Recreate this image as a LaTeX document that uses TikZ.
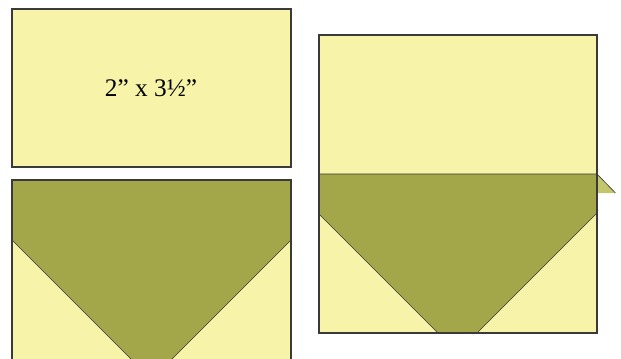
\documentclass[tikz,border=0pt]{standalone}
\usepackage{fontspec}
\setmainfont{Liberation Serif}
\usepackage{tikz}
\definecolor{pieceyellow}{HTML}{F7F3A8}
\definecolor{pieceolive}{HTML}{A3A74A}
\definecolor{flapolive}{HTML}{C4C66C}
\definecolor{edgegray}{HTML}{3A3A3A}
\tikzset{
  piece/.style={fill=pieceyellow,draw=edgegray,line width=0.75pt},
  band/.style={fill=pieceolive,draw=edgegray,line width=0.45pt},
  seam/.style={draw=edgegray,line width=0.45pt}
}
\begin{document}
\begin{tikzpicture}[x=0.025cm,y=-0.025cm]
  \useasboundingbox (0,0) rectangle (621,358);
  \clip (0,0) rectangle (621,358);
  \draw[piece] (12,9) rectangle (291,167);
  \node[font=\fontsize{18}{20}\selectfont] (size) at (151,88) {2” x 3½”};
  \draw[piece] (12,180) rectangle (291,420);
  \draw[band] (12,180) -- (291,180) -- (291,240) -- (151.5,379.5) -- (12,240) -- cycle;
  \draw[line width=0.75pt,draw=edgegray] (12,180) rectangle (291,420);
  \draw[seam] (318,153) -- (318,174);
  \draw[piece] (319,35) rectangle (597,333);
  \draw[band] (319,174) -- (597,174) -- (597,213) -- (477,333) -- (438,333) -- (319,214) -- cycle;
  \fill[flapolive] (597,174) -- (615.5,193) -- (597,193) -- cycle;
  \draw[seam] (597,174) -- (615.5,193);
  \draw[line width=0.75pt,draw=edgegray] (319,35) rectangle (597,333);
\end{tikzpicture}
\end{document}
